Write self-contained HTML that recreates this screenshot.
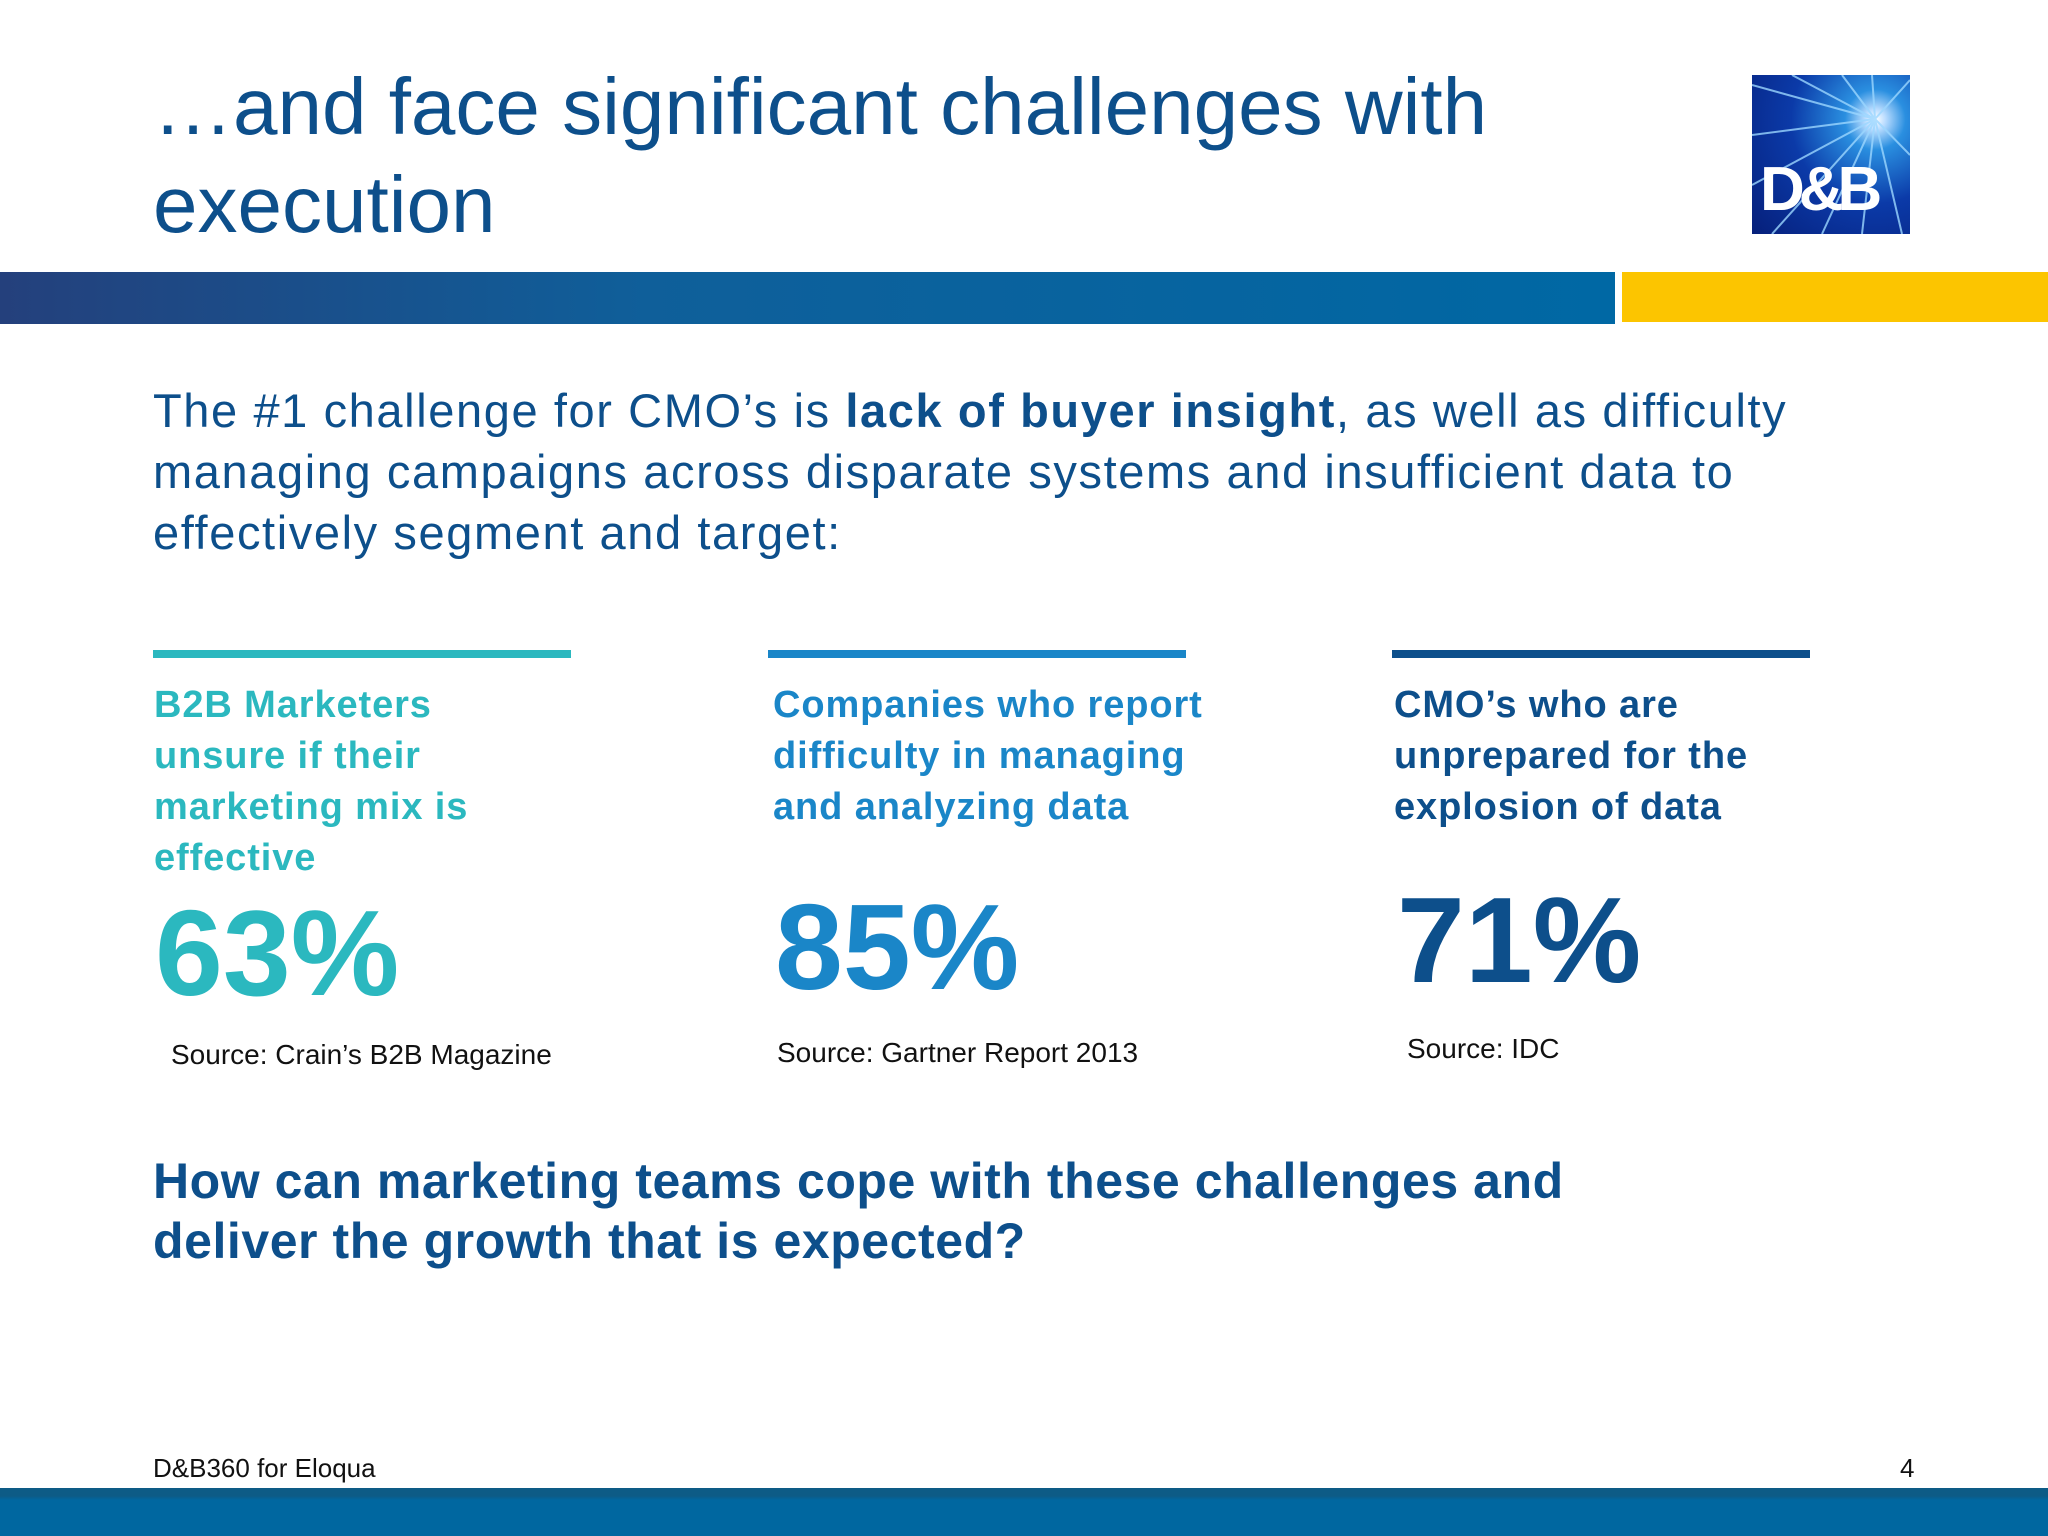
<!DOCTYPE html>
<html><head><meta charset="utf-8"><style>
body{margin:0;width:2048px;height:1536px;position:relative;overflow:hidden;background:#fff;font-family:"Liberation Sans",sans-serif}
div{position:absolute}
.t{white-space:nowrap}
</style></head><body>
<div class="t" style="left:153px;top:58px;font-size:80px;line-height:98px;color:#0d4f8b">…and face significant challenges with<br>execution</div>
<div style="left:1752px;top:75px;width:158px;height:159px;overflow:hidden;background:radial-gradient(circle at 78% 28%,#fff 0,#bdf 6%,#2a8fe0 18%,#0b3aa8 50%,#061f7a 100%)">
<svg width="158" height="159" style="position:absolute;left:0;top:0"><g stroke="#9cd7ff" stroke-width="2" opacity=".8">
<line x1="123" y1="44" x2="0" y2="10"/><line x1="123" y1="44" x2="0" y2="60"/><line x1="123" y1="44" x2="0" y2="110"/><line x1="123" y1="44" x2="40" y2="0"/><line x1="123" y1="44" x2="90" y2="0"/><line x1="123" y1="44" x2="120" y2="0"/><line x1="123" y1="44" x2="158" y2="5"/><line x1="123" y1="44" x2="158" y2="80"/><line x1="123" y1="44" x2="150" y2="159"/><line x1="123" y1="44" x2="110" y2="159"/><line x1="123" y1="44" x2="70" y2="159"/><line x1="123" y1="44" x2="20" y2="159"/></g></svg>
<div class="t" style="left:8px;top:82px;font-size:62px;line-height:66px;font-weight:bold;color:#fff;letter-spacing:-6px">D&amp;B</div></div>
<div style="left:0;top:272px;width:1615px;height:52px;background:linear-gradient(90deg,#24407c,#0f5f9a 40%,#0068a4)"></div>
<div style="left:1622px;top:272px;width:426px;height:50px;background:#fcc500"></div>
<div class="t" style="left:153px;top:380px;font-size:47px;line-height:61px;color:#0d4f8b;letter-spacing:1.6px">The #1 challenge for CMO’s is <b>lack of buyer insight</b>, as well as difficulty<br>managing campaigns across disparate systems and insufficient data to<br>effectively segment and target:</div>

<div style="left:153px;top:650px;width:418px;height:8px;background:#2bb8bf"></div>
<div style="left:768px;top:650px;width:418px;height:8px;background:#1a86c8"></div>
<div style="left:1392px;top:650px;width:418px;height:8px;background:#0d4f8b"></div>

<div class="t" style="left:154px;top:680px;font-size:38px;line-height:51px;font-weight:bold;color:#2bb8bf;letter-spacing:0.9px">B2B Marketers<br>unsure if their<br>marketing mix is<br>effective</div>
<div class="t" style="left:773px;top:680px;font-size:38px;line-height:51px;font-weight:bold;color:#1a86c8;letter-spacing:0.9px">Companies who report<br>difficulty in managing<br>and analyzing data</div>
<div class="t" style="left:1394px;top:680px;font-size:38px;line-height:51px;font-weight:bold;color:#0d4f8b;letter-spacing:0.9px">CMO’s who are<br>unprepared for the<br>explosion of data</div>

<div class="t" style="left:155px;top:892px;font-size:122px;line-height:122px;font-weight:bold;color:#2bb8bf">63%</div>
<div class="t" style="left:775px;top:886px;font-size:122px;line-height:122px;font-weight:bold;color:#1a86c8">85%</div>
<div class="t" style="left:1397px;top:879px;font-size:122px;line-height:122px;font-weight:bold;color:#0d4f8b">71%</div>

<div class="t" style="left:171px;top:1039px;font-size:28px;line-height:32px;color:#111">Source: Crain’s B2B Magazine</div>
<div class="t" style="left:777px;top:1037px;font-size:28px;line-height:32px;color:#111">Source: Gartner Report 2013</div>
<div class="t" style="left:1407px;top:1033px;font-size:28px;line-height:32px;color:#111">Source: IDC</div>

<div class="t" style="left:153px;top:1151px;font-size:50px;line-height:60px;font-weight:bold;color:#0d4f8b;letter-spacing:0.55px">How can marketing teams cope with these challenges and<br>deliver the growth that is expected?</div>

<div class="t" style="left:153px;top:1453px;font-size:26px;line-height:30px;color:#111">D&amp;B360 for Eloqua</div>
<div class="t" style="left:1900px;top:1453px;font-size:26px;line-height:30px;color:#111">4</div>
<div style="left:0;top:1488px;width:2048px;height:48px;background:linear-gradient(#0d5b86 0,#0d5b86 8px,#0067a0 12px,#0067a0)"></div>
</body></html>
